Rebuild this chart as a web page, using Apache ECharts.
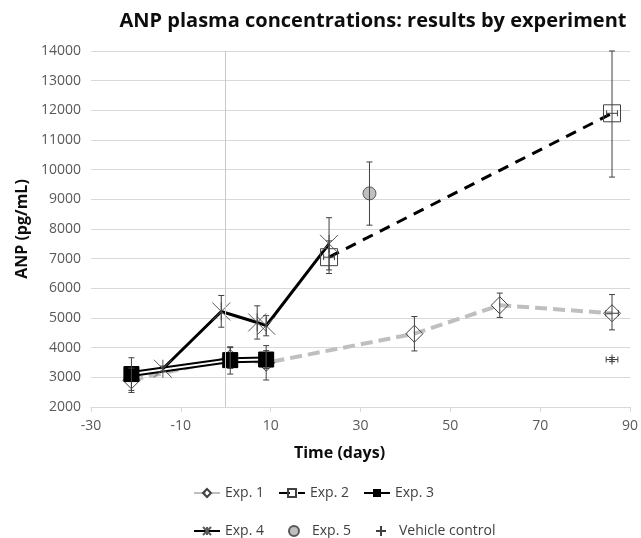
<!DOCTYPE html>
<html>
<head>
<meta charset="utf-8">
<script src="https://cdn.jsdelivr.net/npm/echarts@6/dist/echarts.min.js"></script>
<style>
  html, body { margin: 0; padding: 0; background: #fff; }
  #chart { width: 641px; height: 538px; }
</style>
</head>
<body>
<div id="chart"></div>
<script>
// data: [day, ANP pg/mL]
const exp1Data = [[-21, 2900], [1, 3650], [9, 3490], [42, 4470], [61, 5430], [86, 5160]];
const exp2Data = [[23, 7050], [86, 11900]];
const exp3Data = [[-21, 3110], [1, 3580], [9, 3600]];
const exp4Data = [[-14, 3290], [-1, 5220], [7, 4850], [9, 4740], [23, 7500]];
const exp5Data = [[32, 9200]];
const vehicleData = [[86, 3600]];

// vertical error bars: [day, low, high]
const exp1Err = [[-21, 2490, 3310], [1, 3300, 4000], [9, 2910, 4070], [42, 3890, 5050], [61, 5020, 5840], [86, 4600, 5790]];
const exp2Err = [[23, 6500, 7600], [86, 9750, 14000]];
const exp3Err = [[-21, 2560, 3660], [1, 3110, 4030], [9, 3300, 3900]];
const exp4Err = [[-14, 3200, 3380], [-1, 4690, 5760], [7, 4290, 5410], [9, 4400, 5080], [23, 6620, 8380]];
const exp5Err = [[32, 8130, 10260]];
const vehicleErr = [[86, 3530, 3670]];

// horizontal error bars: [value, dayLow, dayHigh]
const horizErr = [[7050, 21.8, 24.2], [11900, 84.8, 87.2], [5160, 84.6, 87.4], [3600, 84.7, 87.3]];

const xTicks = { min: -30, max: 90, interval: 20 };
const yTicks = { min: 2000, max: 14000, interval: 1000 };

const FONT = 'Open Sans';
const barStyle = { stroke: '#404040', lineWidth: 1 };
const CAP = 3;

function vErr(params, api) {
  const a = api.coord([api.value(0), api.value(1)]);
  const b = api.coord([api.value(0), api.value(2)]);
  return {
    type: 'group',
    children: [
      { type: 'line', shape: { x1: a[0], y1: a[1], x2: b[0], y2: b[1] }, style: barStyle },
      { type: 'line', shape: { x1: a[0] - CAP, y1: a[1], x2: a[0] + CAP, y2: a[1] }, style: barStyle },
      { type: 'line', shape: { x1: b[0] - CAP, y1: b[1], x2: b[0] + CAP, y2: b[1] }, style: barStyle },
    ],
  };
}

function hErr(params, api) {
  const a = api.coord([api.value(1), api.value(0)]);
  const b = api.coord([api.value(2), api.value(0)]);
  return {
    type: 'group',
    children: [
      { type: 'line', shape: { x1: a[0], y1: a[1], x2: b[0], y2: b[1] }, style: barStyle },
      { type: 'line', shape: { x1: a[0], y1: a[1] - CAP, x2: a[0], y2: a[1] + CAP }, style: barStyle },
      { type: 'line', shape: { x1: b[0], y1: b[1] - CAP, x2: b[0], y2: b[1] + CAP }, style: barStyle },
    ],
  };
}

const starPath = 'path://M0,0L20,20M20,0L0,20M10,0L10,20';
const plusPath = 'path://M5,0L5,10M0,5L10,5';

const legendText = { fontFamily: FONT, fontSize: 14, color: '#404040' };

const option = {
  animation: false,
  textStyle: { fontFamily: FONT },
  title: {
    text: 'ANP plasma concentrations: results by experiment',
    left: 368,
    top: 6,
    textAlign: 'center',
    textStyle: { fontFamily: FONT, fontSize: 20, fontWeight: 'bold', color: '#0d0d0d' },
  },
  legend: [
    {
      data: ['Exp. 1', 'Exp. 2', 'Exp. 3'],
      left: 188, top: 481, itemWidth: 26, itemHeight: 10, itemGap: 14,
      textStyle: legendText,
    },
    {
      data: ['Exp. 4', 'Exp. 5', 'Vehicle control'],
      left: 188, top: 519, itemWidth: 26, itemHeight: 10, itemGap: 24,
      textStyle: legendText,
    },
  ],
  grid: { left: 91, width: 540, top: 51, height: 356 },
  xAxis: {
    type: 'value',
    min: xTicks.min, max: xTicks.max, interval: xTicks.interval,
    name: 'Time (days)',
    nameLocation: 'middle',
    nameGap: 38,
    nameTextStyle: { fontFamily: FONT, fontSize: 16, fontWeight: 'bold', color: '#0d0d0d', padding: [0, 42, 0, 0] },
    axisLine: { onZero: false, lineStyle: { color: '#d9d9d9', width: 1 } },
    axisTick: { show: true, length: 5, lineStyle: { color: '#d9d9d9' } },
    axisLabel: { fontSize: 14, color: '#595959', margin: 12, formatter: v => String(v) },
    splitLine: { show: false },
  },
  yAxis: {
    type: 'value',
    min: yTicks.min, max: yTicks.max, interval: yTicks.interval,
    name: 'ANP (pg/mL)',
    nameLocation: 'middle',
    nameGap: 60,
    nameTextStyle: { fontFamily: FONT, fontSize: 16, fontWeight: 'bold', color: '#0d0d0d' },
    axisLine: { show: false },
    axisTick: { show: false },
    axisLabel: { fontSize: 14, color: '#595959', margin: 10, formatter: v => String(v) },
    splitLine: { lineStyle: { color: '#d9d9d9', width: 1 } },
  },
  series: [
    {
      name: 'Exp. 1',
      type: 'line',
      data: exp1Data,
      symbol: 'diamond',
      symbolSize: 17,
      itemStyle: { color: 'rgba(255,255,255,0)', borderColor: '#404040', borderWidth: 1 },
      lineStyle: { color: '#bfbfbf', width: 4, type: [12, 6] },
      markLine: {
        silent: true,
        symbol: 'none',
        label: { show: false },
        lineStyle: { color: '#c8c8c8', width: 1, type: 'solid' },
        data: [{ xAxis: 0 }],
      },
    },
    {
      name: 'Exp. 2',
      type: 'line',
      data: exp2Data,
      symbol: 'rect',
      symbolSize: 17,
      itemStyle: { color: 'rgba(255,255,255,0)', borderColor: '#404040', borderWidth: 1 },
      lineStyle: { color: '#000', width: 3, type: [11, 8] },
    },
    {
      name: 'Exp. 3',
      type: 'line',
      data: exp3Data,
      symbol: 'rect',
      symbolSize: 15,
      itemStyle: { color: '#000', borderColor: '#000' },
      lineStyle: { color: '#000', width: 6 },
    },
    {
      name: 'Exp. 3 inner',
      type: 'line',
      data: exp3Data,
      symbol: 'none',
      lineStyle: { color: '#fff', width: 2 },
    },
    {
      name: 'Exp. 3 marks',
      type: 'scatter',
      data: exp3Data,
      symbol: 'rect',
      symbolSize: 15,
      itemStyle: { color: '#000', opacity: 1 },
    },
    {
      name: 'Exp. 4',
      type: 'line',
      data: exp4Data,
      symbol: starPath,
      symbolSize: 18,
      itemStyle: { color: 'rgba(0,0,0,0)', borderColor: '#595959', borderWidth: 1 },
      lineStyle: { color: '#000', width: 3 },
    },
    {
      name: 'Exp. 5',
      type: 'scatter',
      data: exp5Data,
      symbol: 'circle',
      symbolSize: 13,
      itemStyle: { color: '#bfbfbf', borderColor: '#595959', borderWidth: 1, opacity: 1 },
    },
    {
      name: 'Vehicle control',
      type: 'scatter',
      data: vehicleData,
      symbol: plusPath,
      symbolSize: 10,
      itemStyle: { color: 'rgba(0,0,0,0)', borderColor: '#404040', borderWidth: 1, opacity: 1 },
    },
    {
      name: 'v-errors',
      type: 'custom',
      renderItem: vErr,
      encode: { x: 0, y: [1, 2] },
      data: [].concat(exp1Err, exp2Err, exp3Err, exp4Err, exp5Err, vehicleErr),
      z: 5,
      silent: true,
    },
    {
      name: 'h-errors',
      type: 'custom',
      renderItem: hErr,
      encode: { x: [1, 2], y: 0 },
      data: horizErr,
      z: 5,
      silent: true,
    },
  ],
};

const chart = echarts.init(document.getElementById('chart'));
chart.setOption(option);
</script>
</body>
</html>
